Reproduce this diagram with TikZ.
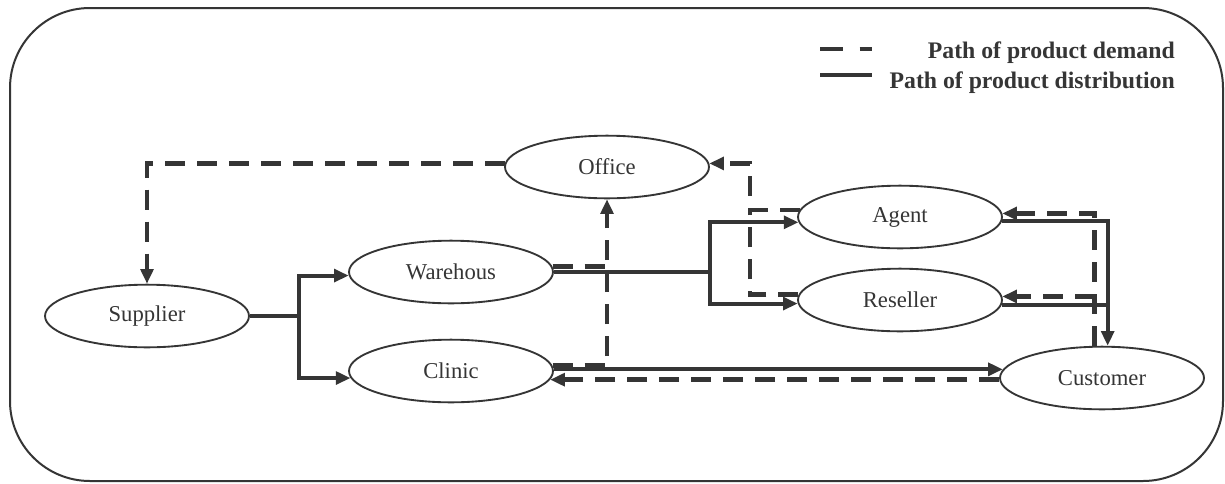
\documentclass[tikz,border=0pt]{standalone}
\usepackage{fontspec}
\setmainfont{Liberation Serif}
\usetikzlibrary{arrows.meta,shapes.geometric}
\definecolor{ink}{HTML}{353535}
\begin{document}
\begin{tikzpicture}[x=0.75pt,y=-0.75pt,
  ell/.style={ellipse,draw=ink,line width=1.4pt,minimum width=153pt,minimum height=47pt,inner sep=0pt,
    font=\fontsize{17}{19}\selectfont,text=ink},
  dist/.style={draw=ink,line width=3.1pt},
  dem/.style={draw=ink,line width=3.5pt,dash pattern=on 15pt off 9pt},
  tip/.style={-{Triangle[length=11pt,width=9.5pt]}},
  lbl/.style={font=\bfseries\fontsize{17.8}{20}\selectfont,text=ink,anchor=east,inner sep=0pt}]

\useasboundingbox (0,0) rectangle (1225,483);
\fill[white] (0,0) rectangle (1225,483);
\draw[ink,line width=1.5pt,rounded corners=60pt] (10,8) rectangle (1223,481);

% nodes
\node[ell] (sup) at (147,316) {Supplier};
\node[ell] (wh)  at (451,272) {Warehous};
\node[ell] (cl)  at (451,371) {Clinic};
\node[ell] (off) at (607,167) {Office};
\node[ell] (agt) at (900,217) {Agent};
\node[ell] (res) at (900,300) {Reseller};
\node[ell] (cus) at (1102,378) {Customer};

\coordinate (jS) at (299,316);
\coordinate (jW) at (710,272);
\coordinate (xA) at (750,0);

% distribution (solid)
\draw[dist] (sup.east) -- (jS);
\draw[dist,tip] (jS) |- (wh.182);
\draw[dist,tip] (jS) |- (cl.184);
\draw[dist] (wh.east) -- (jW);
\draw[dist,tip] (jW) |- (agt.183);
\draw[dist,tip] (jW) |- (res.182);
\draw[dist,tip] (agt.-2) -| (cus.80);
\draw[dist] (res.-3) -- (res.-3 -| cus.80);
\draw[dist,tip] (cl.east |- cus.175) -- (cus.175);

% demand (dashed)
\draw[dem,tip] (cus.west |- cl.-5) -- (cl.-5);
\draw[dem,tip] (cus.103) |- (agt.2);
\draw[dem,tip] (cus.103 |- res.2) -- (res.2);
\draw[dem,tip] (agt.176) -| (xA |- off.2) -- (off.2);
\draw[dem] (res.177) -| (xA |- agt.176);
\draw[dem,tip] (cl.3) -| (off.south);
\draw[dem] (wh.3) -- (wh.3 -| off.south);
\draw[dem,tip] (off.178) -| (sup.north);

% legend
\coordinate (l1a) at (820,49);
\coordinate (l1b) at (872,49);
\coordinate (l2a) at (820,75);
\coordinate (l2b) at (872,75);
\draw[draw=ink,line width=3.6pt,dash pattern=on 17pt off 12.75pt] (l1a) -- (l1b);
\draw[draw=ink,line width=3.6pt] (l2a) -- (l2b);
\node[lbl] (t1) at (1175,53) {Path of product demand};
\node[lbl] (t2) at (1175,83) {Path of product distribution};
\end{tikzpicture}
\end{document}
